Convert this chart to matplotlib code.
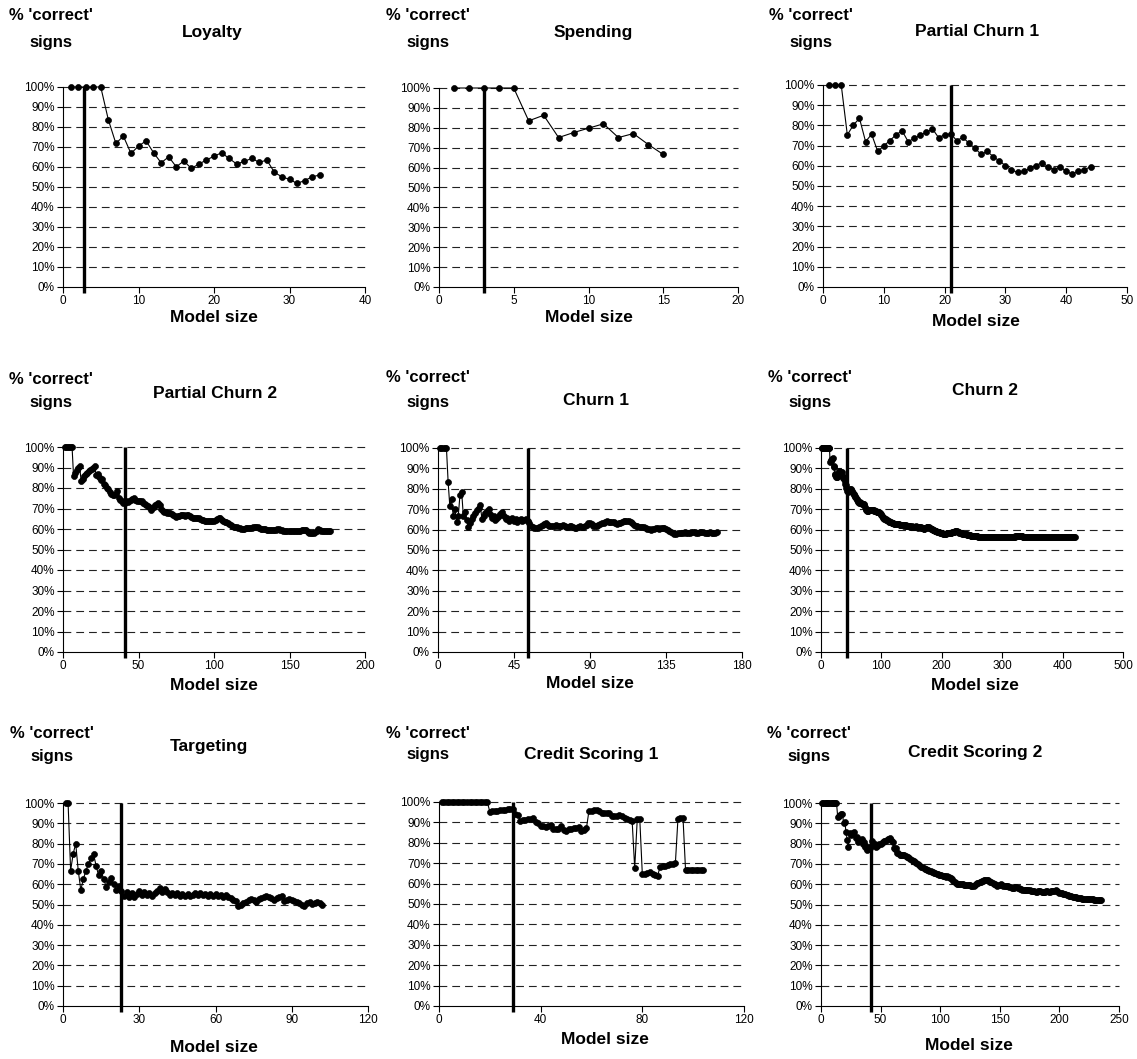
import numpy as np
import matplotlib
matplotlib.use("Agg")
import matplotlib.pyplot as plt

plt.rcParams['font.family'] = ['Liberation Sans', 'DejaVu Sans']

# ---------------- data (percent of 'correct' signs by model size 1..N) -------------
TITLES = ["Loyalty", "Spending", "Partial Churn 1",
          "Partial Churn 2", "Churn 1", "Churn 2",
          "Targeting", "Credit Scoring 1", "Credit Scoring 2"]
XMAX = [40, 20, 50, 200, 180, 500, 120, 120, 250]
XSTEP = [10, 5, 10, 50, 45, 100, 30, 40, 50]
VLINE = [2.8, 3, 21, 41, 53, 43, 23, 29, 42]

LOYALTY = [100, 100, 100, 100, 100, 83.7, 71.8, 75.4, 66.8, 70.4,
           73.1, 67.1, 62.1, 65.1, 60.1, 63.0, 59.3, 61.5, 63.5, 65.4,
           67.1, 64.3, 61.5, 62.8, 64.3, 62.3, 63.5, 57.3, 55.1, 53.8,
           51.8, 53.2, 55.1, 56.0]

SPENDING = [100, 100, 100, 100, 100, 83.5, 86.3, 75.1, 77.6, 79.8,
            82.0, 75.1, 77.1, 71.6, 66.6]

PARTIAL_CHURN_1 = [100, 100, 100, 75.3, 80.2, 83.5, 72.0, 75.6, 67.1, 69.9,
                   72.5, 75.3, 77.4, 72.0, 73.6, 75.3, 76.6, 78.3, 74.0, 75.3,
                   75.8, 72.5, 74.1, 71.2, 68.7, 65.7, 67.1, 64.6, 62.4, 60.1,
                   58.0, 56.7, 57.2, 58.8, 60.1, 61.6, 59.6, 58.0, 59.6, 57.2,
                   56.0, 57.5, 58.0, 59.6]

PARTIAL_CHURN_2 = [100, 100, 100, 100, 100, 100, 85.7, 87.5, 88.9, 90,
                   90.9, 83.3, 84.6, 85.7, 86.7, 87.5, 88.2, 88.9, 89.5, 90,
                   90.5, 86.4, 87, 85.4, 84, 84.6, 82, 81.5, 80, 79.3,
                   78, 77, 76.5, 76.5, 77.2, 78.5, 75, 74, 73.5, 72.5,
                   72.8, 73.5, 73.3, 73.8, 74.2, 74.5, 75, 74.3, 73.8, 73.5,
                   73.8, 73.6, 72.5, 72, 71.8, 71.3, 70.5, 69.5, 70.2, 70.8,
                   71.5, 72, 72.6, 71.8, 69.8, 68.8, 68.5, 68.3, 68, 67.8,
                   67.6, 67.4, 66.8, 66.2, 65.7, 66.1, 66.5, 66.8, 67, 66.8,
                   66.5, 66.7, 66.6, 66.2, 65.8, 65.4, 65.6, 65.5, 65.3, 65.4,
                   64.9, 64.5, 64.2, 63.9, 63.8, 63.9, 64, 63.8, 64, 64,
                   64.3, 64.8, 65.2, 65.2, 64.5, 63.9, 63.5, 63.3, 62.8, 62.3,
                   61.9, 61.6, 61.2, 61, 60.8, 60.6, 60.3, 60, 60.1, 60.2,
                   60.3, 60.4, 60.5, 60.5, 60.7, 60.9, 61, 61.1, 60.8, 60.5,
                   60.2, 60, 59.9, 59.8, 59.7, 59.6, 59.6, 59.5, 59.5, 59.6,
                   59.7, 59.8, 59.8, 59.6, 59.4, 59.2, 59.1, 59, 58.9, 58.9,
                   59, 59, 59.1, 59.2, 59.2, 59.1, 59.2, 59.3, 59.4, 59.5,
                   59.5, 58.5, 57.9, 58, 58.1, 58.2, 58.4, 59, 60, 59.5,
                   59.2, 59.2, 59.2, 59.2, 59.2, 59.2, 59.2]

CHURN_1 = [100, 100, 100, 100, 100, 83.3, 71.4, 75, 66.7, 70,
           63.6, 66.7, 76.9, 78.6, 66.7, 68.8, 64.7, 61.1, 63.2, 65,
           66.7, 68.2, 69.6, 70.8, 72, 65.4, 66.7, 67.9, 69, 70,
           67.7, 65.6, 66.7, 64.7, 65.7, 66.7, 67.6, 68.4, 66.7, 65,
           65.9, 64.3, 65.1, 65.9, 64.4, 65.2, 63.8, 64.6, 65.3, 64,
           64.7, 65.4, 64.2, 63, 61.8, 61.5, 61, 60.8, 61, 61.3,
           61.8, 62.3, 62.8, 63, 62.5, 62, 61.7, 61.8, 62, 62.3,
           62, 61.7, 62, 62.3, 62, 61.5, 61.3, 61.6, 62, 61.3,
           60.8, 61, 61.5, 61.8, 61.3, 61.5, 62, 62.5, 63, 63.3,
           62.6, 62, 61.8, 62, 62.3, 62.7, 63, 63.3, 63.8, 64,
           63.8, 63.6, 63.5, 63.6, 63.2, 62.8, 63, 63.4, 63.7, 64,
           64.1, 64.2, 64, 63.5, 63, 62.5, 62, 61.8, 61.5, 61.4,
           61.5, 61.2, 60.8, 60.5, 60.3, 60, 60.2, 60.5, 60.6, 60.6,
           60.5, 60.8, 61, 60.6, 60.3, 59.8, 59.3, 58.8, 58.3, 57.9,
           57.9, 58.1, 58.3, 58.4, 58.5, 58.6, 58.5, 58.4, 58.5, 58.6,
           58.7, 58.6, 58.5, 58.5, 58.6, 58.7, 58.6, 58.5, 58.4, 58.5,
           58.6, 58.5, 58.4, 58.5, 58.6]

CHURN_2 = [100, 100, 100, 100, 100, 100, 100, 100, 100, 100,
           100, 100, 100, 100, 93.3, 93.8, 94.1, 94.4, 94.7, 95,
           90.5, 91, 87, 87.5, 86, 85.6, 86, 87, 87.5, 88.5,
           87.5, 88, 88, 88, 87, 86, 85.5, 85, 84, 82.5,
           82, 80.5, 79, 79.5, 78.5, 79, 79.5, 80, 80, 79.5,
           79, 78.5, 78, 77.5, 77, 76.5, 76, 75.5, 75, 74.5,
           74, 73.5, 73, 73.2, 73.3, 73, 72.8, 72.6, 72.5, 72.6,
           72.5, 72, 71, 70, 69.5, 69.3, 69, 69.2, 69.4, 69.5,
           69.6, 69.7, 69.6, 69.5, 69.6, 69.7, 69.5, 69.3, 69.2, 69,
           68.9, 68.8, 68.7, 68.5, 68.5, 68.4, 68.3, 68, 67.5, 67,
           66.5, 66, 65.8, 65.5, 65.3, 65.2, 65, 64.9, 64.7, 64.5,
           64.3, 64.1, 63.9, 63.8, 63.6, 63.5, 63.4, 63.3, 63.2, 63,
           62.9, 62.8, 62.8, 62.7, 62.6, 62.8, 62.9, 62.7, 62.6, 62.5,
           62.4, 62.5, 62.4, 62.3, 62.2, 62.1, 62, 62.1, 62.2, 62.1,
           62, 61.9, 61.8, 61.8, 61.7, 61.6, 61.6, 61.5, 61.5, 61.6,
           61.5, 61.4, 61.3, 61.3, 61.4, 61.5, 61.6, 61.5, 61.4, 61.2,
           61, 61.2, 61.4, 61.5, 61.3, 61, 60.8, 60.7, 60.6, 60.5,
           60.5, 60.6, 60.8, 61, 61.2, 61.4, 61.5, 61.3, 61, 60.8,
           60.6, 60.5, 60.3, 60.1, 60, 59.8, 59.6, 59.5, 59.4, 59.3,
           59.2, 59, 58.9, 58.8, 58.7, 58.6, 58.5, 58.4, 58.3, 58.2,
           58.1, 58, 57.9, 57.8, 57.7, 57.8, 58, 58.2, 58.3, 58.3,
           58.2, 58.1, 58.2, 58.3, 58.4, 58.5, 58.6, 58.7, 58.8, 58.9,
           59, 59.1, 59.2, 59.3, 59.2, 59, 58.8, 58.6, 58.5, 58.4,
           58.3, 58.2, 58.1, 58, 57.9, 57.8, 57.8, 57.7, 57.7, 57.6,
           57.6, 57.5, 57.5, 57.4, 57.3, 57.2, 57.2, 57.1, 57.1, 57,
           57, 56.9, 56.9, 56.8, 56.8, 56.8, 56.7, 56.7, 56.7, 56.6,
           56.6, 56.6, 56.6, 56.6, 56.5, 56.5, 56.5, 56.5, 56.5, 56.5,
           56.5, 56.5, 56.5, 56.5, 56.5, 56.5, 56.5, 56.5, 56.5, 56.5,
           56.5, 56.5, 56.5, 56.5, 56.5, 56.5, 56.5, 56.5, 56.5, 56.5,
           56.5, 56.5, 56.5, 56.5, 56.5, 56.5, 56.5, 56.5, 56.5, 56.5,
           56.5, 56.5, 56.5, 56.5, 56.5, 56.5, 56.5, 56.6, 56.6, 56.6,
           56.6, 56.6, 56.6, 56.5, 56.5, 56.5, 56.5, 56.5, 56.6, 56.6,
           56.6, 56.7, 56.7, 56.8, 56.8, 56.9, 56.9, 56.9, 56.9, 56.8,
           56.8, 56.7, 56.7, 56.6, 56.6, 56.6, 56.6, 56.5, 56.5, 56.5,
           56.5, 56.5, 56.5, 56.5, 56.5, 56.5, 56.5, 56.5, 56.5, 56.5,
           56.5, 56.5, 56.5, 56.5, 56.5, 56.5, 56.5, 56.5, 56.5, 56.5,
           56.5, 56.5, 56.5, 56.5, 56.5, 56.5, 56.5, 56.5, 56.5, 56.5,
           56.5, 56.5, 56.5, 56.5, 56.5, 56.5, 56.5, 56.5, 56.5, 56.5,
           56.5, 56.5, 56.5, 56.5, 56.5, 56.5, 56.5, 56.5, 56.5, 56.5,
           56.5, 56.5, 56.5, 56.5, 56.5, 56.5, 56.5, 56.5, 56.5, 56.5,
           56.5, 56.5, 56.5, 56.5, 56.5, 56.5, 56.5, 56.5, 56.5, 56.5,
           56.5, 56.5, 56.5, 56.5, 56.5, 56.5, 56.5, 56.5, 56.5, 56.5]

TARGETING = [100, 100, 66.7, 75, 80, 66.7, 57.1, 62.5, 66.7, 70,
             72.7, 75, 69.2, 64.3, 66.7, 62.5, 58.8, 61.1, 63.2, 60,
             57.1, 59.1, 56.5, 54.2, 56, 53.8, 55.6, 53.6, 55.2, 56.7,
             54.8, 56.3, 54.5, 55.9, 54.3, 55.6, 56.8, 57.9, 56.4, 57.5,
             56.1, 54.8, 55.8, 54.5, 55.6, 54.3, 55.3, 54.2, 55.1, 54,
             54.9, 55.8, 54.7, 55.6, 54.5, 55.4, 54.4, 55.2, 54.2, 55,
             54.1, 54.8, 53.9, 54.7, 53.8, 53, 52.2, 51.5, 49.3, 50,
             50.7, 51.4, 52.1, 52.7, 52, 51.3, 52.6, 53.2, 53.8, 54.1,
             53.5, 53, 52.4, 53, 53.5, 54, 51.7, 52.3, 52.8, 52.2,
             51.6, 51.1, 50.5, 50, 49.5, 50.5, 51, 50.2, 50.5, 51,
             50.5, 50]

CREDIT_SCORING_1 = [100, 100, 100, 100, 100, 100, 100, 100, 100, 100,
                    100, 100, 100, 100, 100, 100, 100, 100, 100, 95.2,
                    95.5, 95.7, 95.8, 96, 96.2, 96.3, 96.4, 96.6, 96.6, 94,
                    93.5, 90.9, 91.2, 91.4, 91.7, 91.9, 92.1, 90.2, 89.5, 88.2,
                    88, 87.8, 88.1, 88.8, 86.7, 86.9, 87, 88, 86.4, 86,
                    86.6, 87, 87.3, 87.5, 87.6, 86, 86.2, 87.1, 95.7, 95.8,
                    95.9, 96, 95.8, 94.8, 94.6, 94.5, 94.6, 93, 92.9, 93.3,
                    93.8, 93, 92.1, 91.8, 91, 90.5, 67.5, 91.6, 91.5, 64.5,
                    64.6, 65, 65.5, 64.8, 64, 63.8, 68.3, 68.6, 68.8, 69.2,
                    69.4, 69.8, 70, 91.5, 92.2, 92.3, 66.7, 66.6, 66.6, 66.6,
                    66.6, 66.6, 66.6, 66.6]

CREDIT_SCORING_2 = [100, 100, 100, 100, 100, 100, 100, 100, 100, 100,
                    100, 100, 100, 93.3, 93.8, 94.1, 94.4, 94.7, 90, 90.5,
                    85.7, 81.8, 78.3, 85, 84, 84.6, 85.2, 85.7, 82.8, 83.3,
                    80.6, 81.3, 81.8, 82.4, 80, 80.6, 78.4, 78.9, 76.9, 77.5,
                    78, 78.6, 81.4, 79.5, 80, 78.3, 78.7, 79.2, 79.6, 80,
                    80.4, 80.8, 81.1, 81.5, 81.8, 82.1, 82.5, 82.8, 82, 81,
                    78, 77.4, 77.8, 75.3, 75.5, 74.5, 74.6, 74.4, 74.3, 74.2,
                    73.9, 73.6, 73.4, 73.1, 72.5, 72, 71.5, 71.2, 70.8, 70.4,
                    70, 69.5, 69, 68.7, 68.3, 68, 67.6, 67.3, 67, 66.8,
                    66.6, 66.3, 66, 65.8, 65.6, 65.3, 65, 64.8, 64.6, 64.5,
                    64.4, 64.2, 64, 63.8, 63.7, 63.8, 63.6, 63.3, 63, 62.5,
                    61.8, 61, 60.5, 60.3, 60.2, 60, 60.1, 60.2, 60, 59.8,
                    59.7, 59.6, 59.6, 59.5, 59.4, 59.3, 59.1, 58.9, 59.5, 60.3,
                    60.6, 60.8, 61, 61.2, 61.4, 61.6, 61.9, 62.1, 62.2, 61.9,
                    61.5, 61.3, 61, 60.6, 60.3, 60, 59.6, 59.3, 59.5, 59.8,
                    60, 59.6, 59.3, 59, 58.9, 59.2, 59, 58.7, 58.4, 58.2,
                    58.1, 58.3, 58.5, 58.4, 58.3, 58, 57.7, 57.5, 57.3, 57.2,
                    57.1, 57, 57, 56.9, 56.9, 56.8, 56.7, 56.6, 56.5, 56.4,
                    56.4, 56.5, 56.6, 56.5, 56.4, 56.4, 56.3, 56.4, 56.5, 56.5,
                    56.4, 56.4, 56.5, 56.6, 56.7, 56.8, 56.9, 56.6, 56.2, 55.9,
                    55.7, 55.5, 55.3, 55.1, 55, 54.8, 54.6, 54.4, 54.2, 54.1,
                    53.9, 53.8, 53.6, 53.5, 53.3, 53.2, 53.1, 53, 52.9, 52.9,
                    52.8, 52.8, 52.7, 52.7, 52.6, 52.6, 52.5, 52.5, 52.4, 52.4,
                    52.3, 52.3, 52.3, 52.3, 52.3]

SERIES = [LOYALTY, SPENDING, PARTIAL_CHURN_1, PARTIAL_CHURN_2, CHURN_1,
          CHURN_2, TARGETING, CREDIT_SCORING_1, CREDIT_SCORING_2]

# ---------------- layout (pixels in the 1137x1059 canvas) -------------------------
W, H = 1137, 1059
# axes boxes: left, right, top(100%), bottom(0%)
BOXES = [(63, 365, 87, 287), (439, 738, 88, 287), (823, 1127, 85, 287),
         (63, 365, 447, 652), (438, 742, 448, 652), (821, 1123, 448, 652),
         (63, 368, 803, 1006), (439, 744, 802, 1006), (821, 1119, 803, 1006)]
TITLE_POS = [(212, 32), (593, 33), (977, 32),
             (215, 393), (596, 400), (985, 390),
             (209, 747), (591, 755), (975, 753)]
YLAB_POS = [(51, 15, 43), (428, 15, 43), (811, 15, 42),
            (51, 379, 402), (428, 378, 403), (810, 378, 403),
            (52, 733, 757), (428, 733, 755), (809, 733, 757)]
XLAB_POS = [(214, 317), (589, 317), (976, 322),
            (214, 686), (590, 683), (975, 686),
            (214, 1048), (605, 1040), (969, 1045)]

fig = plt.figure(figsize=(W / 100, H / 100), dpi=100)
fig.patch.set_facecolor('white')


def fxy(px, py):
    return px / W, 1 - py / H


for i in range(9):
    l, r, t, b = BOXES[i]
    ax = fig.add_axes([l / W, 1 - b / H, (r - l) / W, (b - t) / H])
    ax.set_facecolor('none')
    vals = np.array(SERIES[i], dtype=float) / 100.0
    x = np.arange(1, len(vals) + 1)

    # dashed horizontal gridlines
    for g in np.arange(0.1, 1.01, 0.1):
        ax.axhline(g, color='#222222', lw=0.8, ls=(0, (7, 4.5)), zorder=1,
                   clip_on=False)

    ax.plot(x, vals, color='black', lw=0.8, marker='o', ms=4.3,
            mfc='black', mec='black', mew=0.5, clip_on=False, zorder=3)

    xv = VLINE[i]
    ax.plot([xv, xv], [-0.03, 1.0], color='black', lw=2.4, clip_on=False,
            solid_capstyle='butt', zorder=4)

    ax.set_xlim(0, XMAX[i])
    ax.set_ylim(0, 1.0)
    xt = np.arange(0, XMAX[i] + 0.1, XSTEP[i])
    ax.set_xticks(xt)
    ax.set_xticklabels([str(int(v)) for v in xt])
    yt = np.arange(0, 1.01, 0.1)
    ax.set_yticks(yt)
    ax.set_yticklabels([f"{int(round(v * 100))}%" for v in yt])
    ax.tick_params(direction='out', length=4, width=0.8, labelsize=8.5,
                   pad=2, colors='black')
    for s in ['top', 'right']:
        ax.spines[s].set_visible(False)
    for s in ['left', 'bottom']:
        ax.spines[s].set_linewidth(0.8)
        ax.spines[s].set_color('black')

    tx, ty = TITLE_POS[i]
    fig.text(*fxy(tx, ty), TITLES[i], ha='center', va='center',
             fontsize=12.5, fontweight='bold')
    yx, y1, y2 = YLAB_POS[i]
    fig.text(*fxy(yx, y1), "% 'correct'", ha='center', va='center',
             fontsize=12, fontweight='bold')
    fig.text(*fxy(yx, y2), "signs", ha='center', va='center',
             fontsize=12, fontweight='bold')
    mx, my = XLAB_POS[i]
    fig.text(*fxy(mx, my), "Model size", ha='center', va='center',
             fontsize=12.5, fontweight='bold')

fig.savefig("out.png", dpi=100, facecolor='white')
